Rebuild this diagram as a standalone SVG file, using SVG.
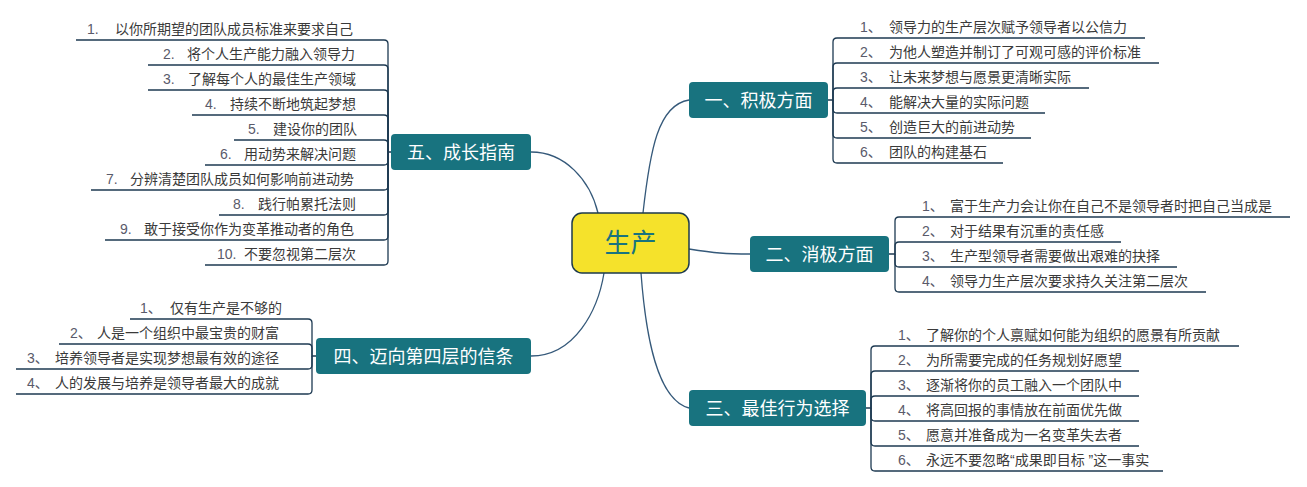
<svg xmlns="http://www.w3.org/2000/svg" width="1307" height="487" viewBox="0 0 1307 487">
<style>
.bg{fill:#ffffff}
.topic rect{fill:#18737f;stroke:none}
.topic text{fill:#ffffff;font-family:"Liberation Sans","Noto Sans CJK SC",sans-serif;font-size:18px;text-anchor:middle}
.center rect{fill:#f5e22b;stroke:#1d3a4c;stroke-width:1.5}
.center text{fill:#18737f;font-family:"Noto Sans CJK SC",sans-serif;font-size:26px;text-anchor:middle}
.item text{font-family:"Liberation Sans","Noto Sans CJK SC",sans-serif;font-size:14px;fill:#3a3a3a}
.item .n{fill:#5a5a6a}
.conn path{fill:none;stroke:#35597a;stroke-width:1.3}
.conn path.br{stroke:#1e3a52;stroke-width:1.3}
</style>
<rect class="bg" x="0" y="0" width="1307" height="487"/>
<g id="connectors" class="conn">
<path d="M643,213 C650,150 658,105 689,100"/>
<path d="M689,249 C715,253 725,254 750,254"/>
<path d="M641,273 C646,340 658,400 689,408"/>
<path d="M604,273 C598,310 575,356 531,356"/>
<path d="M598,213 C590,180 565,152 531,152"/>
<!-- branch 1 -->
<path class="br" d="M828,100 H833 V42 Q833,38 837,38 H1145"/>
<path class="br" d="M833,100 V67 Q833,63 837,63 H1159"/>
<path class="br" d="M833,100 V92 Q833,88 837,88 H1089"/>
<path class="br" d="M833,100 V109 Q833,113 837,113 H1045"/>
<path class="br" d="M833,100 V134 Q833,138 837,138 H1031"/>
<path class="br" d="M833,100 V159 Q833,163 837,163 H1003"/>
<!-- branch 2 -->
<path class="br" d="M889,254 H895 V221 Q895,217 899,217 H1290"/>
<path class="br" d="M895,254 V246 Q895,242 899,242 H1121"/>
<path class="br" d="M895,254 V263 Q895,267 899,267 H1177"/>
<path class="br" d="M895,254 V288 Q895,292 899,292 H1206"/>
<!-- branch 3 -->
<path class="br" d="M866,408 H871 V350 Q871,346 875,346 H1239"/>
<path class="br" d="M871,408 V375 Q871,371 875,371 H1139"/>
<path class="br" d="M871,408 V400 Q871,396 875,396 H1139"/>
<path class="br" d="M871,408 V417 Q871,421 875,421 H1139"/>
<path class="br" d="M871,408 V442 Q871,446 875,446 H1139"/>
<path class="br" d="M871,408 V467 Q871,471 875,471 H1163"/>
<!-- branch 4 -->
<path class="br" d="M316,356 H312 V323 Q312,319 308,319 H130"/>
<path class="br" d="M312,356 V348 Q312,344 308,344 H59"/>
<path class="br" d="M312,356 V365 Q312,369 308,369 H16"/>
<path class="br" d="M312,356 V390 Q312,394 308,394 H16"/>
<!-- branch 5 -->
<path class="br" d="M391,152 H388 V44 Q388,40 384,40 H76"/>
<path class="br" d="M388,152 V69 Q388,65 384,65 H148"/>
<path class="br" d="M388,152 V94 Q388,90 384,90 H148"/>
<path class="br" d="M388,152 V119 Q388,115 384,115 H192"/>
<path class="br" d="M388,152 V144 Q388,140 384,140 H234"/>
<path class="br" d="M388,152 V161 Q388,165 384,165 H205"/>
<path class="br" d="M388,152 V186 Q388,190 384,190 H91"/>
<path class="br" d="M388,152 V211 Q388,215 384,215 H219"/>
<path class="br" d="M388,152 V236 Q388,240 384,240 H105"/>
<path class="br" d="M388,152 V261 Q388,265 384,265 H205"/>
</g>
<g id="center" class="center"><rect x="572" y="213" width="117" height="60" rx="10"/><text x="630.5" y="252">生产</text></g>
<g id="t1" class="topic"><rect x="689" y="82" width="139" height="36" rx="4"/><text x="758.5" y="106.5">一、积极方面</text></g>
<g id="t2" class="topic"><rect x="750" y="236" width="139" height="36" rx="4"/><text x="819.5" y="260.5">二、消极方面</text></g>
<g id="t3" class="topic"><rect x="689" y="390" width="177" height="36" rx="4"/><text x="777.5" y="414.5">三、最佳行为选择</text></g>
<g id="t4" class="topic"><rect x="316" y="338" width="215" height="36" rx="4"/><text x="423.5" y="362.5">四、迈向第四层的信条</text></g>
<g id="t5" class="topic"><rect x="391" y="134" width="140" height="36" rx="4"/><text x="461" y="158.5">五、成长指南</text></g>

<g id="i1-1" class="item"><text class="n" x="860" y="32">1、</text><text x="889" y="32">领导力的生产层次赋予领导者以公信力</text></g>
<g id="i1-2" class="item"><text class="n" x="860" y="57">2、</text><text x="889" y="57">为他人塑造并制订了可观可感的评价标准</text></g>
<g id="i1-3" class="item"><text class="n" x="860" y="82">3、</text><text x="889" y="82">让未来梦想与愿景更清晰实际</text></g>
<g id="i1-4" class="item"><text class="n" x="860" y="107">4、</text><text x="889" y="107">能解决大量的实际问题</text></g>
<g id="i1-5" class="item"><text class="n" x="860" y="132">5、</text><text x="889" y="132">创造巨大的前进动势</text></g>
<g id="i1-6" class="item"><text class="n" x="860" y="157">6、</text><text x="889" y="157">团队的构建基石</text></g>

<g id="i2-1" class="item"><text class="n" x="922" y="211">1、</text><text x="950" y="211">富于生产力会让你在自己不是领导者时把自己当成是</text></g>
<g id="i2-2" class="item"><text class="n" x="922" y="236">2、</text><text x="950" y="236">对于结果有沉重的责任感</text></g>
<g id="i2-3" class="item"><text class="n" x="922" y="261">3、</text><text x="950" y="261">生产型领导者需要做出艰难的抉择</text></g>
<g id="i2-4" class="item"><text class="n" x="922" y="286">4、</text><text x="950" y="286">领导力生产层次要求持久关注第二层次</text></g>

<g id="i3-1" class="item"><text class="n" x="898" y="340">1、</text><text x="926" y="340">了解你的个人禀赋如何能为组织的愿景有所贡献</text></g>
<g id="i3-2" class="item"><text class="n" x="898" y="365">2、</text><text x="926" y="365">为所需要完成的任务规划好愿望</text></g>
<g id="i3-3" class="item"><text class="n" x="898" y="390">3、</text><text x="926" y="390">逐渐将你的员工融入一个团队中</text></g>
<g id="i3-4" class="item"><text class="n" x="898" y="415">4、</text><text x="926" y="415">将高回报的事情放在前面优先做</text></g>
<g id="i3-5" class="item"><text class="n" x="898" y="440">5、</text><text x="926" y="440">愿意并准备成为一名变革失去者</text></g>
<g id="i3-6" class="item"><text class="n" x="898" y="465">6、</text><text x="926" y="465">永远不要忽略“成果即目标 ”这一事实</text></g>

<g id="i4-1" class="item"><text class="n" x="140" y="313">1、</text><text x="170" y="313">仅有生产是不够的</text></g>
<g id="i4-2" class="item"><text class="n" x="70" y="338">2、</text><text x="97" y="338">人是一个组织中最宝贵的财富</text></g>
<g id="i4-3" class="item"><text class="n" x="27" y="363">3、</text><text x="55" y="363">培养领导者是实现梦想最有效的途径</text></g>
<g id="i4-4" class="item"><text class="n" x="27" y="388">4、</text><text x="55" y="388">人的发展与培养是领导者最大的成就</text></g>

<g id="i5-1" class="item"><text class="n" x="87" y="34">1.</text><text x="115" y="34">以你所期望的团队成员标准来要求自己</text></g>
<g id="i5-2" class="item"><text class="n" x="163" y="59">2.</text><text x="187" y="59">将个人生产能力融入领导力</text></g>
<g id="i5-3" class="item"><text class="n" x="163" y="84">3.</text><text x="188" y="84">了解每个人的最佳生产领域</text></g>
<g id="i5-4" class="item"><text class="n" x="205" y="109">4.</text><text x="230" y="109">持续不断地筑起梦想</text></g>
<g id="i5-5" class="item"><text class="n" x="248" y="134">5.</text><text x="273" y="134">建设你的团队</text></g>
<g id="i5-6" class="item"><text class="n" x="220" y="159">6.</text><text x="244" y="159">用动势来解决问题</text></g>
<g id="i5-7" class="item"><text class="n" x="106" y="184">7.</text><text x="130" y="184">分辨清楚团队成员如何影响前进动势</text></g>
<g id="i5-8" class="item"><text class="n" x="233" y="209">8.</text><text x="258" y="209">践行帕累托法则</text></g>
<g id="i5-9" class="item"><text class="n" x="120" y="234">9.</text><text x="144" y="234">敢于接受你作为变革推动者的角色</text></g>
<g id="i5-10" class="item"><text class="n" x="217" y="259">10.</text><text x="244" y="259">不要忽视第二层次</text></g>
</svg>
